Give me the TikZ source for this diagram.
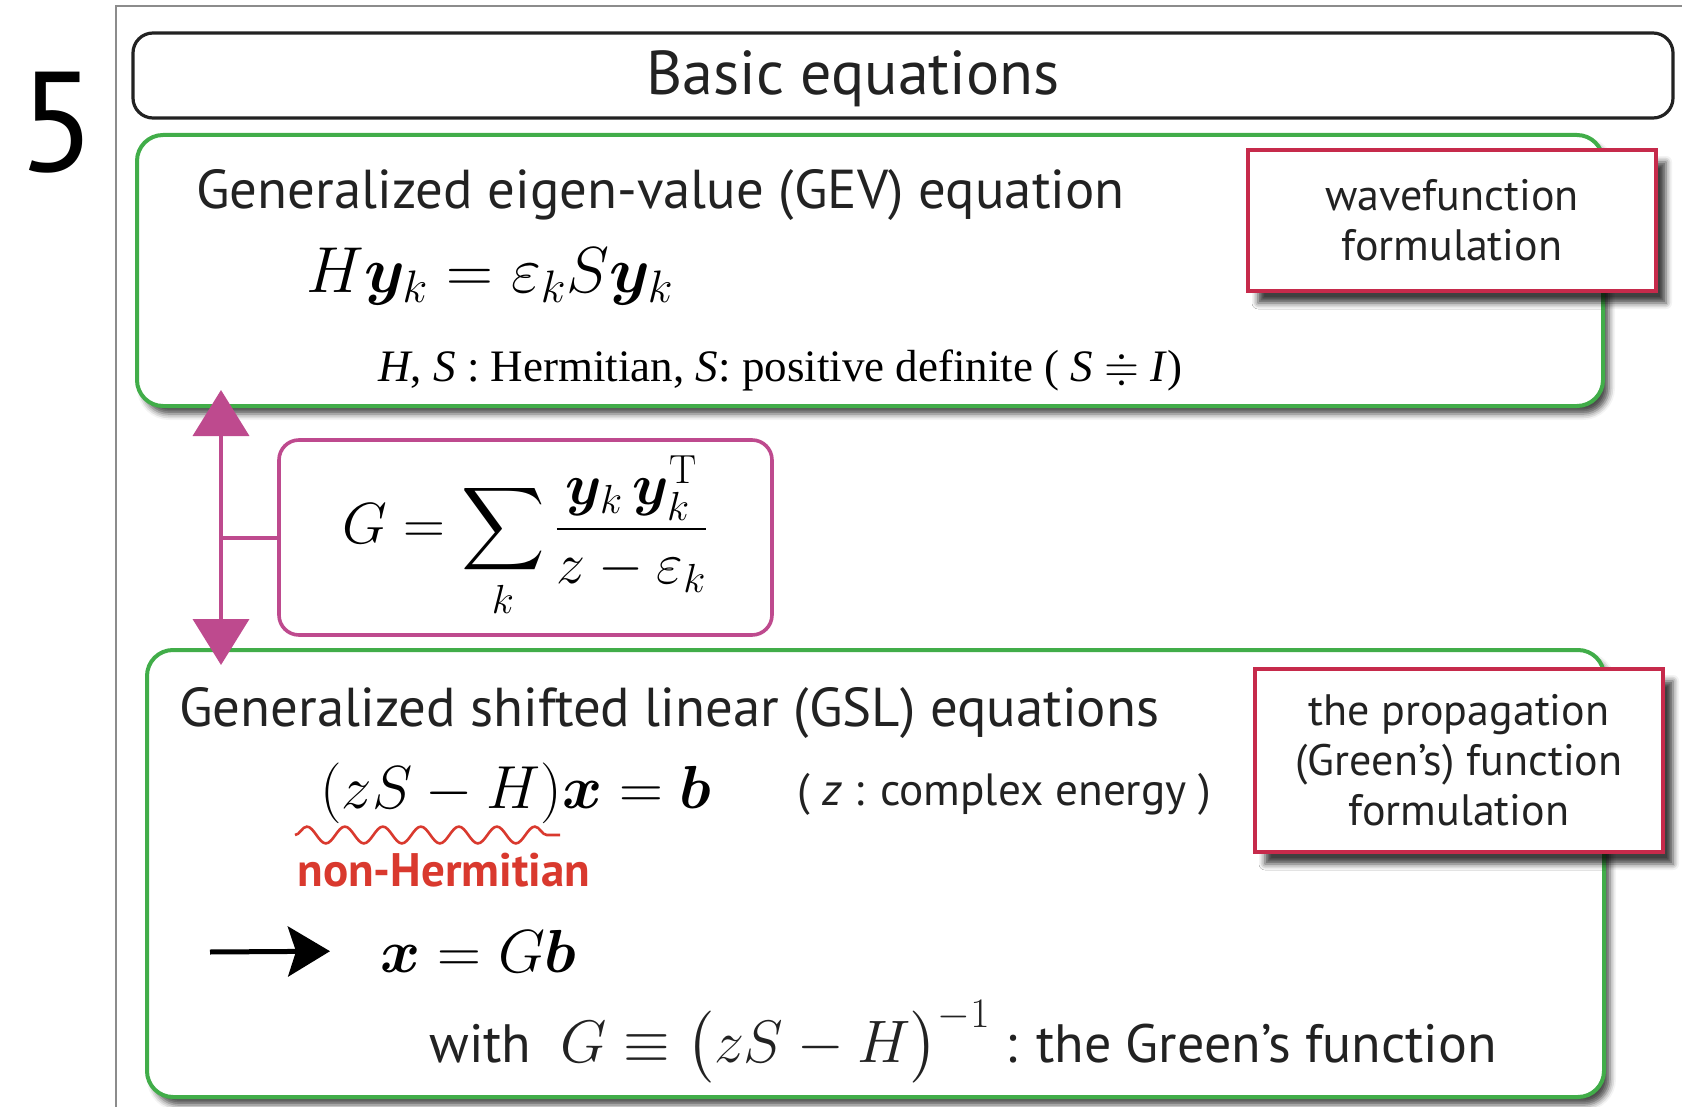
\RequirePackage{fix-cm}
\documentclass[tikz,border=0pt]{standalone}
\usepackage{amsmath,amssymb,bm}
\usepackage[no-math]{fontspec}
\setmainfont{PT Sans}
\newfontfamily\timesfont{Liberation Serif}
\usepackage{tikz}
\usetikzlibrary{arrows.meta,positioning,calc,shadows.blur,decorations.pathmorphing}
\definecolor{eqgreen}{HTML}{41AD49}
\definecolor{tagred}{HTML}{C62A4B}
\definecolor{linkpink}{HTML}{BE4A8E}
\definecolor{warnred}{HTML}{D9392E}
\definecolor{inkgray}{HTML}{222222}
\definecolor{framegray}{HTML}{8C8C8C}
\tikzset{
  titlebox/.style={draw=inkgray,line width=1.6pt,rounded corners=10pt,
    minimum width=770pt,minimum height=42.5pt,text height=24pt,text depth=4.5pt,
    font=\fontsize{31}{34}\selectfont,text=inkgray},
  eqbox/.style={draw=eqgreen,line width=2pt,rounded corners=13pt,fill=white,
    blur shadow={shadow xshift=3pt,shadow yshift=-4pt,shadow blur radius=3pt,shadow opacity=70}},
  tagbox/.style={draw=tagred,line width=1.8pt,fill=white,align=center,text=inkgray,
    font=\fontsize{22}{25}\selectfont,
    blur shadow={shadow xshift=5pt,shadow yshift=-6pt,shadow blur radius=3pt,shadow opacity=75}},
  linkbox/.style={draw=linkpink,line width=1.8pt,rounded corners=10pt,fill=white},
  linkline/.style={draw=linkpink,line width=2pt},
  linkarrow/.style={linkline,{Triangle[width=28pt,length=23pt]}-{Triangle[width=28pt,length=23pt]}},
  solarrow/.style={-{Stealth[length=21pt,width=25pt,inset=4pt]},line width=2.5pt,draw=black},
  wave/.style={draw=warnred,line width=1.3pt,decorate,
    decoration={snake,segment length=19pt,amplitude=4.2pt}},
  headtext/.style={anchor=base west,inner sep=0pt,text=inkgray,font=\fontsize{27.4}{32}\selectfont},
  mathtext/.style={anchor=base west,inner sep=0pt,font=\fontsize{30.4}{36}\selectfont},
  notetext/.style={anchor=base west,inner sep=0pt,text=inkgray,font=\fontsize{22.6}{27}\selectfont}
}

\begin{document}
\begin{tikzpicture}[x=0.5pt,y=-0.5pt]
\useasboundingbox (0,0) rectangle (1682,1107);
% frame of the slide
\draw[framegray,line width=0.8pt] (116,1107) -- (116,6) -- (1682,6);
\node[anchor=base west,inner sep=0pt,font=\fontsize{71}{71}\selectfont] (num) at (18,172) {5};
\node[titlebox] (title) at (903,75.5) {Basic equations\hspace*{50pt}};

% GEV part
\node[eqbox,minimum width=733pt,minimum height=135.5pt] (gev) at (870,270.5) {};
\node[tagbox,minimum width=204pt,minimum height=70.5pt] (wavetag) at (1452,220.5) {wavefunction\\formulation};
\node[headtext] (gevhead) at (196,209) {Generalized eigen-value (GEV) equation};
\node[mathtext,font=\fontsize{32.5}{38}\selectfont] (geveq) at (306,293) {$H\bm{y}_k=\varepsilon_k S\bm{y}_k$};
\node[anchor=base west,inner sep=0pt,font=\timesfont\fontsize{22.5}{27}\selectfont] (gevnote) at (378,381)
  {\textit{H}, \textit{S} : Hermitian, \textit{S}: positive definite ( \textit{S} $\doteqdot$ \textit{I})};

% GSL part
\node[eqbox,minimum width=728.5pt,minimum height=223.5pt] (gsl) at (875.5,873.5) {};
\node[tagbox,minimum width=204pt,minimum height=91.5pt] (greentag) at (1459,760.5)
  {the propagation\\(Green’s) function\\formulation};
\node[headtext] (gslhead) at (179,726) {Generalized shifted linear (GSL) equations};
\node[mathtext] (gsleq) at (320,808) {$(zS-H)\bm{x}=\bm{b}$};
\node[notetext] (gslnote) at (797,805) {( \textit{z} : complex energy )};
\coordinate (w1) at (295,835);
\coordinate (w2) at (560,835);
\draw[wave] (w1) -- (w2);
\node[anchor=base west,inner sep=0pt,text=warnred,font=\bfseries\fontsize{23.5}{28}\selectfont] (nonherm) at (297,886) {non-Hermitian};
\node[mathtext] (gsol) at (380,972) {$\bm{x}=G\bm{b}$};
\coordinate (a0) at (210,952);
\draw[solarrow,shorten >=25pt] (a0) -- (gsol.west);
\node[notetext,font=\fontsize{27}{32}\selectfont] (gdef) at (429,1062)
  {with\ \ {\fontsize{30}{36}\selectfont$G\equiv\bigl(zS-H\bigr)^{-1}$} : the Green’s function};

% link between the two formulations
\node[linkbox,minimum width=246.5pt,minimum height=97.5pt,font=\fontsize{29}{34}\selectfont] (link) at (525.5,537.5)
  {$G=\displaystyle\sum_k\frac{\bm{y}_k\,\bm{y}_k^{\mathrm{T}}}{z-\varepsilon_k}$};
\coordinate (ax) at (221,0);
\draw[linkarrow,shorten <=-9pt,shorten >=-8.5pt] (gev.south -| ax) -- (gsl.north -| ax);
\draw[linkline] (ax |- link.west) -- (link.west);
\end{tikzpicture}
\end{document}
